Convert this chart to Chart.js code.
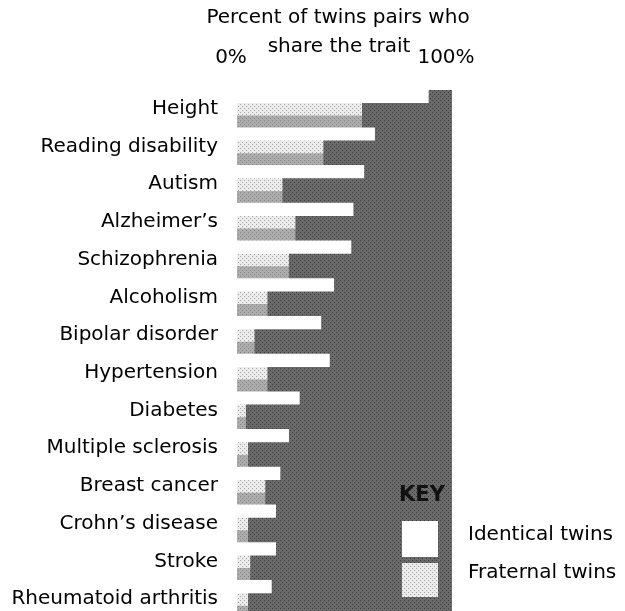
<!DOCTYPE html>
<html>
<head>
<meta charset="utf-8">
<script src="https://cdn.jsdelivr.net/npm/chart.js@4.4.1/dist/chart.umd.min.js"></script>
<style>
  html, body { margin: 0; padding: 0; background: #fff; overflow: hidden; }
  #wrap { width: 625px; height: 649px; }
</style>
</head>
<body>
<div id="wrap"><canvas id="twinChart" width="625" height="649"></canvas></div>
<script>
// — Data (percent of pairs sharing the trait) —
const traits = [
  'Height', 'Reading disability', 'Autism', 'Alzheimer’s', 'Schizophrenia',
  'Alcoholism', 'Bipolar disorder', 'Hypertension', 'Diabetes',
  'Multiple sclerosis', 'Breast cancer', 'Crohn’s disease', 'Stroke',
  'Rheumatoid arthritis'
];
const identical = [89, 64, 59, 54, 53, 45, 39, 43, 29, 24, 20, 18, 18, 16];
const fraternal = [58, 40, 21, 27, 24, 14, 8, 14, 4, 5, 13, 5, 6, 5];
const axisTicks = [0, 100];

const FONT = 'DejaVu Sans';

// small stipple tile, to mimic the scanned dot screen
function stipple(base, dot) {
  const c = document.createElement('canvas');
  c.width = c.height = 4;
  const g = c.getContext('2d');
  g.fillStyle = base;
  g.fillRect(0, 0, 4, 4);
  g.fillStyle = dot;
  g.fillRect(0, 0, 1, 1);
  g.fillRect(2, 2, 1, 1);
  return g.createPattern(c, 'repeat');
}
const fraternalFill = stipple('#ececec', '#a0a0a0');
const shadowFill    = stipple('#adadad', '#808080');
const backFill      = stipple('#6a6a6a', '#3a3a3a');

// Dark backdrop behind the bars
const plotBackdrop = {
  id: 'plotBackdrop',
  beforeDatasetsDraw(chart) {
    const { ctx, chartArea: a } = chart;
    ctx.save();
    ctx.fillStyle = backFill;
    ctx.fillRect(a.left, a.top, a.right - a.left, a.bottom - a.top);
    ctx.restore();
  }
};

// Heading and the KEY box
const headingAndKey = {
  id: 'headingAndKey',
  afterDraw(chart) {
    const { ctx, chartArea: a } = chart;
    ctx.save();
    ctx.fillStyle = '#000';
    ctx.textAlign = 'center';
    ctx.textBaseline = 'middle';
    ctx.font = `20px "${FONT}"`;
    ctx.fillText('Percent of twins pairs who', 338, 18);
    ctx.fillText('share the trait', 339, 47);

    // key
    ctx.font = `bold 21px "${FONT}"`;
    ctx.fillStyle = '#111';
    ctx.fillText('KEY', a.right - 30, 496);
    ctx.fillStyle = '#fff';
    ctx.fillRect(a.right - 50, 521, 36, 36);
    ctx.fillStyle = fraternalFill;
    ctx.fillRect(a.right - 50, 563, 36, 34);

    ctx.fillStyle = '#000';
    ctx.textAlign = 'left';
    ctx.font = `20px "${FONT}"`;
    ctx.fillText('Identical twins', 468, 535);
    ctx.fillText('Fraternal twins', 468, 573);
    ctx.restore();
  }
};

new Chart(document.getElementById('twinChart'), {
  type: 'bar',
  data: {
    labels: traits,
    datasets: [
      { label: 'Identical twins', data: identical, backgroundColor: '#ffffff' },
      { label: 'Fraternal twins', data: fraternal, backgroundColor: fraternalFill },
      // light shade under each fraternal bar
      { label: 'shade', data: fraternal, backgroundColor: shadowFill }
    ]
  },
  options: {
    indexAxis: 'y',
    responsive: false,
    animation: false,
    layout: { padding: { left: 12, right: 173, top: 30, bottom: 0 } },
    datasets: { bar: { categoryPercentage: 1, barPercentage: 1, borderWidth: 0 } },
    plugins: { legend: { display: false }, tooltip: { enabled: false } },
    scales: {
      x: {
        position: 'top',
        min: axisTicks[0],
        max: axisTicks[1],
        afterBuildTicks: s => { s.ticks = axisTicks.map(v => ({ value: v })); },
        ticks: {
          callback: v => v + '%',
          color: '#000',
          font: { family: FONT, size: 20 },
          padding: 20,
          labelOffset: -6,
          maxRotation: 0
        },
        grid: { display: false, drawTicks: false },
        border: { display: false },
        afterFit: s => { s.height = 60; }
      },
      y: {
        ticks: {
          color: '#000',
          font: { family: FONT, size: 20 },
          padding: 19,
          autoSkip: false
        },
        grid: { display: false, drawTicks: false },
        border: { display: false },
        afterFit: s => { s.width = 225; }
      }
    }
  },
  plugins: [plotBackdrop, headingAndKey]
});
</script>
</body>
</html>
